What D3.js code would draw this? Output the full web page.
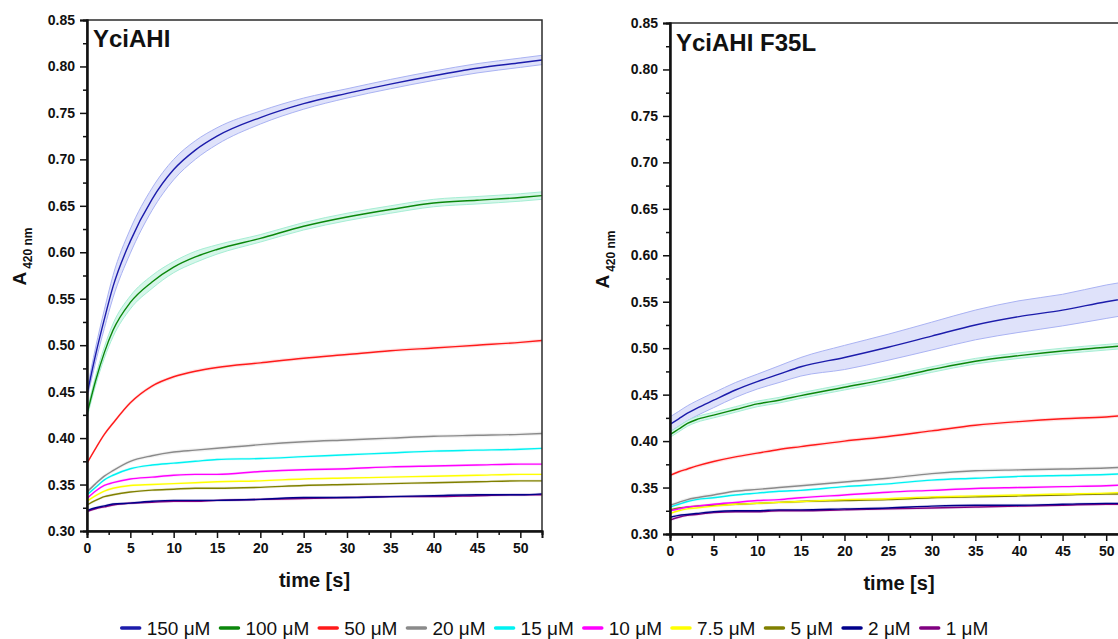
<!DOCTYPE html>
<html><head><meta charset="utf-8">
<script src="https://cdn.jsdelivr.net/npm/d3@7"></script>
<style>
body{margin:0;background:#fff}
svg{display:block}
text{font-family:"Liberation Sans",Arial,Helvetica,sans-serif}
</style>
</head><body>
<svg id="c" width="1118" height="639"></svg>
<script>
// ---------------- DATA ----------------
const time = [0, 1, 2, 3, 5, 7.5, 10, 12.5, 15, 20, 25, 30, 35, 40, 45, 50, 52.5];
const concentrations = ["150 μM","100 μM","50 μM","20 μM","15 μM","10 μM","7.5 μM","5 μM","2 μM","1 μM"];
const seriesColors = ["#1c1cab","#0b870b","#ff1a1a","#8a8a8a","#00f2f2","#ff00ff","#ffff00","#808000","#00008b","#800080"];
const panelTitles = ["YciAHI", "YciAHI F35L"];
const yTicks = [0.30,0.35,0.40,0.45,0.50,0.55,0.60,0.65,0.70,0.75,0.80,0.85];
const xTicks = [0,5,10,15,20,25,30,35,40,45,50];

// YciAHI (wild type)
const wt150 = [0.447,0.490,0.528,0.563,0.612,0.657,0.689,0.710,0.725,0.745,0.760,0.771,0.781,0.790,0.798,0.804,0.807];
const wt100 = [0.426,0.462,0.492,0.516,0.546,0.568,0.584,0.595,0.603,0.615,0.628,0.638,0.646,0.653,0.656,0.659,0.661];
const wt50  = [0.373,0.389,0.404,0.416,0.438,0.456,0.466,0.472,0.476,0.481,0.486,0.490,0.494,0.497,0.500,0.503,0.505];
const wt20  = [0.342,0.351,0.359,0.365,0.375,0.381,0.385,0.387,0.389,0.393,0.396,0.398,0.400,0.402,0.403,0.404,0.405];
const wt15  = [0.339,0.347,0.355,0.360,0.367,0.371,0.373,0.375,0.377,0.378,0.380,0.382,0.384,0.386,0.387,0.388,0.389];
const wt10  = [0.335,0.343,0.349,0.352,0.356,0.358,0.360,0.361,0.361,0.364,0.366,0.367,0.369,0.370,0.371,0.372,0.372];
const wt7_5 = [0.332,0.338,0.343,0.346,0.349,0.350,0.351,0.352,0.353,0.354,0.356,0.357,0.358,0.359,0.360,0.361,0.361];
const wt5   = [0.328,0.333,0.337,0.339,0.342,0.344,0.345,0.346,0.346,0.347,0.349,0.350,0.351,0.352,0.353,0.354,0.354];
const wt2   = [0.322,0.325,0.327,0.329,0.330,0.332,0.333,0.333,0.333,0.334,0.336,0.336,0.337,0.338,0.339,0.339,0.340];
const wt1   = [0.321,0.324,0.326,0.328,0.330,0.331,0.332,0.332,0.333,0.334,0.335,0.336,0.337,0.337,0.338,0.339,0.339];

// YciAHI F35L
const mut150 = [0.418,0.424,0.430,0.435,0.444,0.455,0.464,0.472,0.480,0.490,0.501,0.513,0.525,0.534,0.541,0.550,0.554];
const mut100 = [0.407,0.413,0.419,0.423,0.428,0.434,0.440,0.444,0.449,0.458,0.467,0.477,0.486,0.492,0.497,0.501,0.503];
const mut50  = [0.363,0.367,0.370,0.373,0.378,0.383,0.387,0.391,0.394,0.400,0.405,0.411,0.417,0.421,0.424,0.426,0.428];
const mut20  = [0.331,0.334,0.337,0.339,0.342,0.346,0.348,0.350,0.352,0.356,0.360,0.365,0.368,0.369,0.370,0.371,0.372];
const mut15  = [0.329,0.332,0.335,0.337,0.339,0.342,0.344,0.346,0.347,0.351,0.354,0.358,0.360,0.362,0.363,0.364,0.365];
const mut10  = [0.325,0.327,0.329,0.330,0.332,0.334,0.336,0.337,0.339,0.342,0.345,0.347,0.349,0.350,0.351,0.352,0.353];
const mut7_5 = [0.322,0.325,0.327,0.328,0.330,0.332,0.333,0.334,0.335,0.337,0.338,0.340,0.341,0.342,0.343,0.344,0.345];
const mut5   = [0.326,0.328,0.329,0.330,0.331,0.332,0.333,0.334,0.335,0.336,0.337,0.339,0.340,0.341,0.342,0.343,0.343];
const mut2   = [0.318,0.320,0.321,0.322,0.324,0.325,0.325,0.326,0.326,0.327,0.328,0.330,0.331,0.331,0.332,0.333,0.333];
const mut1   = [0.315,0.318,0.320,0.321,0.323,0.324,0.324,0.325,0.325,0.326,0.327,0.328,0.329,0.330,0.331,0.332,0.332];

// error bands (± standard deviation)
const wtBand150  = [0.005,0.008,0.010,0.012,0.013,0.012,0.011,0.010,0.009,0.007,0.006,0.005,0.005,0.005,0.005,0.005,0.005];
const wtBand100  = [0.004,0.005,0.006,0.007,0.007,0.007,0.006,0.006,0.005,0.004,0.004,0.004,0.004,0.004,0.004,0.004,0.004];
const mutBand150 = [0.008,0.008,0.008,0.008,0.008,0.008,0.008,0.009,0.010,0.013,0.014,0.015,0.016,0.017,0.017,0.018,0.018];
const mutBand100 = [0.003,0.003,0.003,0.003,0.003,0.003,0.003,0.003,0.003,0.003,0.003,0.003,0.003,0.003,0.003,0.003,0.003];
const otherBand = [0, 0, 0.002, 0.002, 0.0015, 0.0015, 0.0015, 0.0015, 0.0015, 0.0015];

const wtSeries  = [wt150, wt100, wt50, wt20, wt15, wt10, wt7_5, wt5, wt2, wt1];
const mutSeries = [mut150, mut100, mut50, mut20, mut15, mut10, mut7_5, mut5, mut2, mut1];

// ---------------- DRAW ----------------
const svg = d3.select("#c");
const bandFill = ["#dfe2fa","#d6f6ea"];
const bandEdge = ["#aab3f3","#a6eed4"];

const panels = [
  {title: panelTitles[0], data: wtSeries, bands: [wtBand150, wtBand100], x0: 87, x1: 542, yTop: 20, yBot: 531, titleDy: 0},
  {title: panelTitles[1], data: mutSeries, bands: [mutBand150, mutBand100], x0: 670, x1: 1128, yTop: 23, yBot: 534, titleDy: 1}
];

panels.forEach((p, pi) => {
  const x = d3.scaleLinear().domain([0, 52.5]).range([p.x0, p.x1]);
  const y = d3.scaleLinear().domain([0.30, 0.85]).range([p.yBot, p.yTop]);
  const g = svg.append("g");

  // bands
  p.data.forEach((vals, si) => {
    const sd = si < 2 ? p.bands[si] : time.map(() => otherBand[si]);
    const pts = time.map((t, i) => ({t, v: vals[i], s: sd[i]}));
    const area = d3.area().x(d => x(d.t)).y0(d => y(d.v - d.s)).y1(d => y(d.v + d.s)).curve(d3.curveMonotoneX);
    if (si < 2) {
      g.append("path").attr("d", area(pts)).attr("fill", bandFill[si]).attr("stroke", "none");
      const up = d3.line().x(d => x(d.t)).y(d => y(d.v + d.s)).curve(d3.curveMonotoneX);
      const dn = d3.line().x(d => x(d.t)).y(d => y(d.v - d.s)).curve(d3.curveMonotoneX);
      g.append("path").attr("d", up(pts)).attr("fill", "none").attr("stroke", bandEdge[si]).attr("stroke-width", 1);
      g.append("path").attr("d", dn(pts)).attr("fill", "none").attr("stroke", bandEdge[si]).attr("stroke-width", 1);
    } else {
      g.append("path").attr("d", area(pts)).attr("fill", seriesColors[si]).attr("fill-opacity", 0.12).attr("stroke", "none");
    }
  });

  // lines (draw from low conc. to high so high lies on top)
  for (let si = p.data.length - 1; si >= 0; si--) {
    const vals = p.data[si];
    const pts = time.map((t, i) => ({t, v: vals[i]}));
    const line = d3.line().x(d => x(d.t)).y(d => y(d.v)).curve(d3.curveMonotoneX);
    g.append("path").attr("d", line(pts)).attr("fill", "none")
      .attr("stroke", seriesColors[si]).attr("stroke-width", 1.4);
  }

  // frame
  g.append("rect").attr("x", p.x0).attr("y", p.yTop).attr("width", p.x1 - p.x0).attr("height", p.yBot - p.yTop)
    .attr("fill", "none").attr("stroke", "#2b2b2b").attr("stroke-width", 1.5);

  // y axis
  const yAxis = d3.axisLeft(y).tickValues(yTicks).tickFormat(d3.format(".2f")).tickSize(7).tickPadding(5);
  g.append("g").attr("transform", `translate(${p.x0},0)`).call(yAxis);
  const yMinor = d3.axisLeft(y).tickValues(d3.range(0.325, 0.85, 0.05)).tickFormat("").tickSize(4);
  g.append("g").attr("transform", `translate(${p.x0},0)`).call(yMinor);

  // x axis
  const xAxis = d3.axisBottom(x).tickValues(xTicks).tickFormat(d3.format("d")).tickSize(7).tickPadding(5);
  g.append("g").attr("transform", `translate(0,${p.yBot})`).call(xAxis);
  const xMinor = d3.axisBottom(x).tickValues(d3.range(2.5, 52.5, 5)).tickFormat("").tickSize(4);
  g.append("g").attr("transform", `translate(0,${p.yBot})`).call(xMinor);

  g.selectAll(".domain").attr("stroke", "#111").attr("stroke-width", 2);
  g.selectAll(".tick line").attr("stroke", "#111").attr("stroke-width", 1.5);
  g.selectAll(".tick text").attr("font-family", "Liberation Sans, Arial, sans-serif")
    .attr("font-size", 14).attr("font-weight", "bold").attr("fill", "#111");

  // axis titles
  g.append("text").attr("x", (p.x0 + p.x1) / 2).attr("y", p.yBot + 56)
    .attr("text-anchor", "middle").attr("font-size", 20).attr("font-weight", "bold").attr("fill", "#111")
    .text("time [s]");

  const yl = g.append("text").attr("transform", `translate(${p.x0 - 61},${(p.yTop + p.yBot) / 2 - 19}) rotate(-90)`)
    .attr("text-anchor", "middle").attr("font-weight", "bold").attr("fill", "#111");
  yl.append("tspan").attr("font-size", 19).text("A");
  yl.append("tspan").attr("font-size", 12).attr("dx", 3).attr("dy", 6).text("420 nm");

  // panel title
  g.append("text").attr("x", p.x0 + 6).attr("y", p.yTop + 27 + p.titleDy)
    .attr("font-size", 24).attr("font-weight", "bold").attr("fill", "#111").text(p.title);
});

// ---------------- LEGEND ----------------
const leg = svg.append("g");
const swW = 18, gap1 = 7, gap2 = 10, legY = 628;
let cx = 0;
concentrations.forEach((c, i) => {
  const it = leg.append("g");
  it.append("line").attr("x1", 0).attr("x2", swW).attr("y1", 0).attr("y2", 0)
    .attr("stroke", seriesColors[i]).attr("stroke-width", 3.5).attr("stroke-linecap", "round");
  const t = it.append("text").attr("x", swW + gap1).attr("y", 7).attr("font-size", 19).attr("fill", "#111").text(c);
  const w = t.node().getComputedTextLength();
  it.attr("transform", `translate(${cx},${legY})`);
  cx += swW + gap1 + w + gap2;
});
const total = cx - gap2;
leg.attr("transform", `translate(${555 - total / 2},0)`);
</script>
</body></html>
